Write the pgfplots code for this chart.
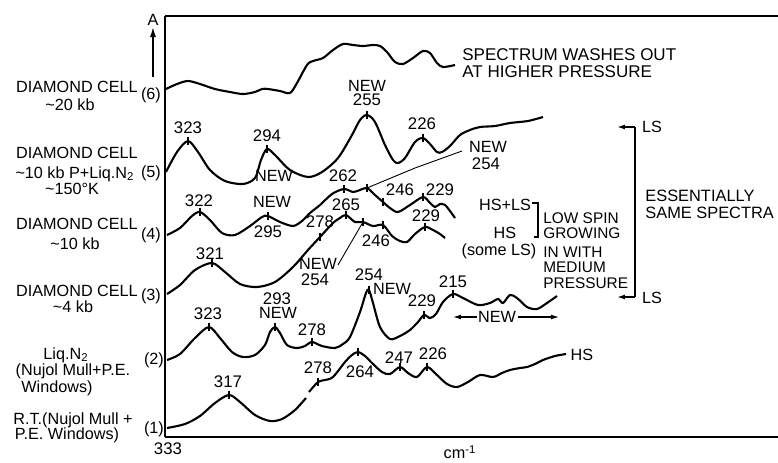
\documentclass[border=0pt]{standalone}
\usepackage{fontspec}
\setmainfont{Liberation Sans}
\usepackage{pgfplots}
\pgfplotsset{compat=1.18}
\usetikzlibrary{arrows.meta}
\newcommand{\lb}[3]{\node[inner sep=0pt,font=\fontsize{8.1}{9}\selectfont] at (axis cs:#1,#2) {#3};}
\newcommand{\nb}[3]{\node[inner sep=0pt,font=\fontsize{8.4}{9}\selectfont] at (axis cs:#1,#2) {#3};}
\begin{document}
\begin{tikzpicture}
\begin{axis}[
 scale only axis, width=306.5pt, height=210.5pt,
 xmin=165, xmax=778, ymin=16, ymax=437, y dir=reverse,
 axis x line=box, axis y line=left, axis line style={-, line width=0.9pt},
 xtick=\empty, ytick=\empty, clip=false,
]
% (6)
\addplot[black, line width=1.05pt, smooth, tension=0.5] coordinates {
(166,89) (177,84) (188,81) (200,84) (215,89) (230,92) (243,94) (255,92) (262,89) (268,89) (280,91) (290,93) (297,83) (307,65) (313,61) (323,58) (333,50) (343,44) (353,45) (363,46) (373,45) (380,46) (387,52) (395,62) (403,64) (413,58) (423,51) (430,53) (437,63) (443,67) (455,65)};
% (5)
\addplot[black, line width=1.05pt, smooth, tension=0.5] coordinates {
(166,172) (177,152) (188,141) (198,152) (210,170) (225,181) (243,184) (255,178) (261,160) (267,149) (275,155) (290,170) (308,177) (322,172) (338,158) (352,135) (360,120) (367,115) (375,122) (385,145) (393,160) (398,163) (405,158) (415,142) (423,138) (430,144) (437,152) (442,152) (450,146) (460,135) (470,130) (480,127) (495,126) (510,123) (528,121) (543,117)};
% (4)
\addplot[black, line width=1.05pt, smooth, tension=0.5] coordinates {
(167,235) (180,228) (192,216) (200,212) (210,220) (222,233) (235,235) (250,226) (262,217) (268,216) (280,222) (293,226) (302,221) (310,213) (320,205) (332,194) (344,189) (353,192) (360,190) (367,188) (375,195) (383,202) (390,208) (398,212) (410,205) (423,197) (430,203) (435,207) (440,204) (445,205) (450,211) (455,218)};
% (3)
\addplot[black, line width=1.05pt, smooth, tension=0.5] coordinates {
(167,294) (180,285) (195,270) (212,263) (225,272) (240,284) (257,287) (275,282) (293,267) (308,250) (320,237) (333,223) (340,218) (346,215) (355,222) (363,222) (373,226) (383,225) (392,236) (400,241) (407,242) (415,234) (425,227) (433,230) (440,234) (445,238)};
% (2)
\addplot[black, line width=1.05pt, smooth, tension=0.5] coordinates {
(167,360) (180,354) (195,338) (209,327) (220,338) (232,352) (243,357) (255,355) (265,345) (270,332) (275,327) (280,333) (287,345) (297,348) (305,346) (312,342) (322,346) (335,348) (343,344) (350,337) (360,312) (366,293) (369,290) (373,303) (380,327) (390,339) (400,336) (410,330) (418,322) (424,315) (430,318) (436,314) (443,302) (453,294) (463,298) (478,305) (490,303) (498,299) (503,303) (510,295) (517,298) (527,307) (537,309) (547,303) (557,296)};
% (1)
\addplot[black, line width=1.05pt, smooth, tension=0.5] coordinates {
(167,428) (185,424) (200,416) (215,403) (229,395) (240,402) (255,415) (270,421) (282,419) (295,410) (306,398)};
\addplot[black, line width=1.05pt, smooth, tension=0.5] coordinates {
(309,392) (318,382) (325,380) (333,377) (345,362) (352,355) (358,352) (365,356) (372,363) (382,372) (390,374) (400,367) (408,373) (417,377) (427,367) (437,375) (447,384) (457,387) (468,382) (480,375) (493,377) (502,373) (510,370) (520,368) (527,367) (535,364) (543,360) (555,356) (566,354)};
% peak ticks
\addplot[black, only marks, mark=|, mark size=2.2pt, mark options={line width=0.6pt}] coordinates {
(188,141) (267,149) (367,115) (423,138)
(200,212) (268,216) (344,189) (367,188) (383,202) (423,197)
(212,263) (320,237) (346,215) (363,222) (383,225) (425,227)
(209,327) (275,327) (312,342) (369,290) (424,315) (453,294)
(229,395) (318,382) (358,352) (400,367) (427,367)};
% leader lines
\draw[line width=0.45pt] (axis cs:462,151) -- (axis cs:415,168) -- (axis cs:367,188);
\draw[line width=0.45pt] (axis cs:338,265) -- (axis cs:363,222);
% y arrow
\draw[line width=0.7pt, -{Latex[length=5pt,width=3pt]}] (axis cs:153,77) -- (axis cs:153,27);
\lb{153}{20}{A}
% left labels
\lb{77}{87}{DIAMOND CELL}
\lb{70}{105}{\textasciitilde20 kb}
\lb{151}{95}{(6)}
\lb{77}{153}{DIAMOND CELL}
\lb{75}{174}{\textasciitilde10 kb P+Liq.N\textsubscript{2}}
\lb{72}{189}{\textasciitilde150°K}
\lb{151}{173}{(5)}
\lb{77}{224}{DIAMOND CELL}
\lb{75}{244}{\textasciitilde10 kb}
\lb{151}{235}{(4)}
\lb{77}{291}{DIAMOND CELL}
\lb{73}{307}{\textasciitilde4 kb}
\lb{151}{296}{(3)}
\lb{66}{355}{Liq.N\textsubscript{2}}
\lb{73}{371}{(Nujol Mull+P.E.}
\lb{57}{388}{Windows)}
\lb{154}{360}{(2)}
\lb{73}{420}{R.T.(Nujol Mull +}
\lb{67}{435}{P.E. Windows)}
\lb{154}{429}{(1)}
\nb{168}{449}{333}
\lb{460}{452}{cm\textsuperscript{-1}}
% curve 6 text
\node[anchor=west,inner sep=0pt,font=\fontsize{8.5}{9}\selectfont] at (axis cs:462,55) {SPECTRUM WASHES OUT};
\node[anchor=west,inner sep=0pt,font=\fontsize{8.5}{9}\selectfont] at (axis cs:462,72) {AT HIGHER PRESSURE};
% curve 5 labels
\nb{188}{128}{323}
\nb{267}{136}{294}
\lb{274}{176}{NEW}
\lb{367}{86}{NEW}
\nb{367}{100}{255}
\nb{422}{124}{226}
\lb{488}{147}{NEW}
\nb{486}{164}{254}
% curve 4 labels
\nb{199}{201}{322}
\lb{272}{202}{NEW}
\nb{268}{232}{295}
\nb{343}{176}{262}
\nb{400}{190}{246}
\nb{440}{190}{229}
% curve 3 labels
\nb{346}{205}{265}
\nb{320}{222}{278}
\nb{376}{241}{246}
\nb{426}{216}{229}
\nb{210}{254}{321}
\lb{318}{264}{NEW}
\nb{315}{280}{254}
% curve 2 labels
\nb{208}{314}{323}
\nb{277}{299}{293}
\lb{278}{313}{NEW}
\nb{312}{330}{278}
\nb{369}{275}{254}
\lb{392}{289}{NEW}
\nb{422}{301}{229}
\nb{453}{282}{215}
\draw[line width=0.6pt, -{Latex[length=4pt,width=2.5pt]}] (axis cs:477,317) -- (axis cs:453,317);
\draw[line width=0.6pt, -{Latex[length=4pt,width=2.5pt]}] (axis cs:518,317) -- (axis cs:559,317);
\lb{497}{317}{NEW}
% curve 1 labels
\nb{228}{382}{317}
\nb{318}{368}{278}
\nb{360}{372}{264}
\nb{399}{358}{247}
\nb{433}{354}{226}
\lb{582}{355}{HS}
% HS+LS block
\lb{505}{205}{HS+LS}
\lb{505}{233}{HS}
\lb{499}{251}{(some LS)}
\draw[line width=0.7pt] (axis cs:532,203) -- (axis cs:538,203) -- (axis cs:538,237) -- (axis cs:534,237);
\node[anchor=west,inner sep=0pt,font=\fontsize{7.7}{9}\selectfont] at (axis cs:543,218) {LOW SPIN};
\node[anchor=west,inner sep=0pt,font=\fontsize{7.7}{9}\selectfont] at (axis cs:543,233) {GROWING};
\node[anchor=west,inner sep=0pt,font=\fontsize{7.7}{9}\selectfont] at (axis cs:543,252) {IN WITH};
\node[anchor=west,inner sep=0pt,font=\fontsize{7.7}{9}\selectfont] at (axis cs:543,267) {MEDIUM};
\node[anchor=west,inner sep=0pt,font=\fontsize{7.7}{9}\selectfont] at (axis cs:543,283) {PRESSURE};
% big bracket
\draw[line width=0.8pt] (axis cs:635,127) -- (axis cs:635,297);
\draw[line width=0.7pt, -{Latex[length=4pt,width=2.5pt]}] (axis cs:635,127) -- (axis cs:617,127);
\draw[line width=0.7pt, -{Latex[length=4pt,width=2.5pt]}] (axis cs:635,297) -- (axis cs:617,297);
\lb{652}{127}{LS}
\lb{652}{298}{LS}
\node[anchor=west,inner sep=0pt,font=\fontsize{8.2}{9}\selectfont] at (axis cs:645,196) {ESSENTIALLY};
\node[anchor=west,inner sep=0pt,font=\fontsize{8.2}{9}\selectfont] at (axis cs:645,213) {SAME SPECTRA};
\coordinate (BL) at (axis cs:0,462);
\coordinate (TR) at (axis cs:778,0);
\end{axis}
\pgfresetboundingbox
\path[use as bounding box] (BL) rectangle (TR);
\end{tikzpicture}
\end{document}
